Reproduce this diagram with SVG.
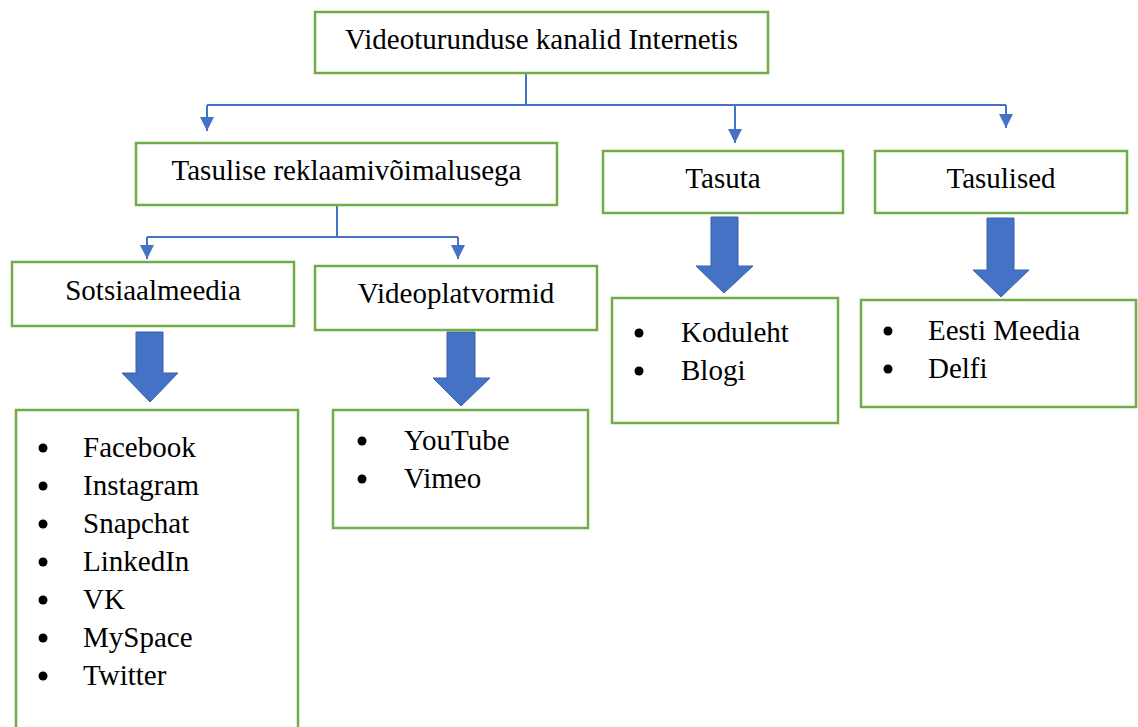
<svg xmlns="http://www.w3.org/2000/svg" width="1138" height="727" viewBox="0 0 1138 727">
<defs>
<style>
.box{fill:#fff;stroke:#70AD47;stroke-width:2.5}
text{font-family:'Liberation Serif','Times New Roman','DejaVu Serif',serif;font-size:29px;fill:#000}
.c{text-anchor:middle}
.conn{fill:none;stroke:#4472C4;stroke-width:2}
.big{fill:#4472C4;stroke:#3A62A8;stroke-width:1}
.dot{fill:#000}
</style>
<marker id="ah" viewBox="0 0 14 14" refX="14" refY="7" markerWidth="14" markerHeight="14" markerUnits="userSpaceOnUse" orient="auto">
<path d="M0,0 L14,7 L0,14 z" fill="#4472C4"/>
</marker>
</defs>
<rect width="1138" height="727" fill="#fff"/>
<g id="connectors">
<path class="conn" d="M526,74 V105"/>
<path class="conn" d="M207,105 H1006"/>
<path class="conn" d="M207,105 V131" marker-end="url(#ah)"/>
<path class="conn" d="M735,105 V143" marker-end="url(#ah)"/>
<path class="conn" d="M1006,105 V128" marker-end="url(#ah)"/>
<path class="conn" d="M337,205 V237"/>
<path class="conn" d="M147,237 H458"/>
<path class="conn" d="M147,237 V259" marker-end="url(#ah)"/>
<path class="conn" d="M458,237 V259" marker-end="url(#ah)"/>
<path class="big" d="M136,332 H163 V373 H178 L150,402 L122,373 H136 Z"/>
<path class="big" d="M447,332 H475 V378 H490 L461,406 L433,378 H447 Z"/>
<path class="big" d="M711,217 H738 V266 H753 L724,293 L696,266 H711 Z"/>
<path class="big" d="M987,218 H1014 V270 H1029 L1001,297 L973,270 H987 Z"/>
</g>
<g id="root">
<rect class="box" x="315" y="12" width="453" height="61"/>
<text class="c" x="541.5" y="49" font-family="Liberation Serif, serif">Videoturunduse kanalid Internetis</text>
</g>
<g id="tasulise">
<rect class="box" x="136" y="143" width="421" height="62"/>
<text class="c" x="346.5" y="180">Tasulise reklaamivõimalusega</text>
</g>
<g id="tasuta">
<rect class="box" x="603" y="151" width="240" height="62"/>
<text class="c" x="723" y="188">Tasuta</text>
</g>
<g id="tasulised">
<rect class="box" x="875" y="151" width="252" height="62"/>
<text class="c" x="1001" y="188">Tasulised</text>
</g>
<g id="sotsiaalmeedia">
<rect class="box" x="12" y="262" width="282" height="64"/>
<text class="c" x="153" y="300">Sotsiaalmeedia</text>
</g>
<g id="videoplatvormid">
<rect class="box" x="315" y="266" width="282" height="64"/>
<text class="c" x="456" y="303">Videoplatvormid</text>
</g>
<g id="list-sotsiaal">
<path class="box" d="M16,740 V410 H298 V740"/>
<circle class="dot" cx="43" cy="448" r="4.5"/><text x="83" y="457">Facebook</text>
<circle class="dot" cx="43" cy="486" r="4.5"/><text x="83" y="495">Instagram</text>
<circle class="dot" cx="43" cy="524" r="4.5"/><text x="83" y="533">Snapchat</text>
<circle class="dot" cx="43" cy="562" r="4.5"/><text x="83" y="571">LinkedIn</text>
<circle class="dot" cx="43" cy="600" r="4.5"/><text x="83" y="609">VK</text>
<circle class="dot" cx="43" cy="638" r="4.5"/><text x="83" y="647">MySpace</text>
<circle class="dot" cx="43" cy="676" r="4.5"/><text x="83" y="685">Twitter</text>
</g>
<g id="list-video">
<rect class="box" x="333" y="410" width="255" height="118"/>
<circle class="dot" cx="362" cy="441" r="4.5"/><text x="404" y="450">YouTube</text>
<circle class="dot" cx="362" cy="479" r="4.5"/><text x="404" y="488">Vimeo</text>
</g>
<g id="list-tasuta">
<rect class="box" x="612" y="298" width="226" height="125"/>
<circle class="dot" cx="639" cy="333" r="4.5"/><text x="681" y="342">Koduleht</text>
<circle class="dot" cx="639" cy="371" r="4.5"/><text x="681" y="380">Blogi</text>
</g>
<g id="list-tasulised">
<rect class="box" x="861" y="300" width="275" height="107"/>
<circle class="dot" cx="888" cy="331" r="4.5"/><text x="928" y="340">Eesti Meedia</text>
<circle class="dot" cx="888" cy="369" r="4.5"/><text x="928" y="378">Delfi</text>
</g>
</svg>
